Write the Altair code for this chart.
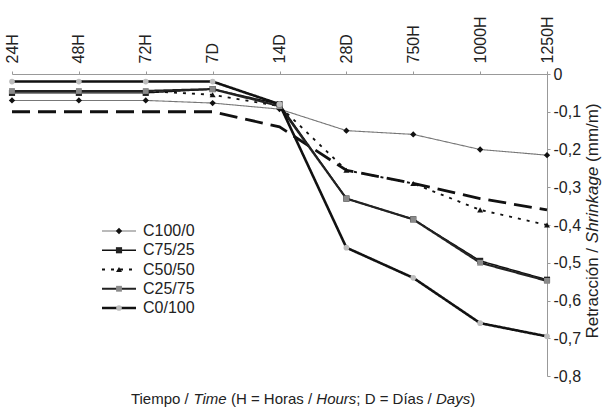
import altair as alt
import pandas as pd

# ---------------- data ----------------
tiempos = ["24H", "48H", "72H", "7D", "14D", "28D", "750H", "1000H", "1250H"]
series = ["C100/0", "C75/25", "C50/50", "C25/75", "C0/100"]

c100_0 = [-0.070, -0.070, -0.070, -0.077, -0.093, -0.150, -0.160, -0.200, -0.215]
c75_25 = [-0.050, -0.050, -0.050, -0.040, -0.080, -0.330, -0.385, -0.495, -0.545]
c50_50 = [-0.045, -0.045, -0.045, -0.055, -0.085, -0.255, -0.290, -0.360, -0.400]
c25_75 = [-0.045, -0.045, -0.045, -0.040, -0.085, -0.330, -0.385, -0.500, -0.548]
c0_100 = [-0.020, -0.020, -0.020, -0.020, -0.080, -0.460, -0.540, -0.660, -0.695]
# long-dashed curve without markers (not listed in the legend)
discontinua = [-0.100, -0.100, -0.100, -0.100, -0.140, -0.255, -0.290, -0.330, -0.360]

valores = [c100_0, c75_25, c50_50, c25_75, c0_100]

rows = []
for s, vals in zip(series, valores):
    for t, v in zip(tiempos, vals):
        rows.append({"serie": s, "tiempo": t, "valor": v})
df = pd.DataFrame(rows)
df_dash = pd.DataFrame({"tiempo": tiempos, "valor": discontinua})
df_leg = pd.DataFrame({"serie": series})

# ---------------- styles ----------------
FONT = "Liberation Sans"
line_colors = ["#777777", "#111111", "#111111", "#222222", "#111111"]
line_widths = [1.1, 2.6, 2.2, 2.0, 1.8]
line_dashes = [[1, 0], [1, 0], [3, 6], [1, 0], [1, 0]]
mark_shapes = ["diamond", "square", "triangle-up", "square", "circle"]
mark_fills = ["#111111", "#222222", "#111111", "#8a8a8a", "#bdbdbd"]
mark_sizes = [40, 32, 45, 32, 55]

W, H = 535, 302

x_enc = alt.X(
    "tiempo:O",
    sort=tiempos,
    scale=alt.Scale(type="point", padding=0),
    axis=alt.Axis(
        orient="top", title=None, labelAngle=-90, labelAlign="left",
        labelBaseline="middle", labelFont=FONT, labelFontSize=16,
        labelColor="#222222", tickSize=3, labelPadding=8,
        domainColor="#999999", tickColor="#999999", grid=False,
    ),
)
y_enc = alt.Y(
    "valor:Q",
    scale=alt.Scale(domain=[-0.8, 0], nice=False, zero=False),
    axis=alt.Axis(
        orient="right", title=None, values=[0, -0.1, -0.2, -0.3, -0.4, -0.5, -0.6, -0.7, -0.8],
        labelExpr="abs(datum.value) < 1e-9 ? '0' : '-' + replace(format(abs(datum.value), '.1f'), '.', ',')",
        labelFont=FONT, labelFontSize=16, labelColor="#222222",
        tickSize=3, labelPadding=3, domainColor="#999999", tickColor="#999999", grid=False,
    ),
)

stroke_enc = alt.Stroke("serie:N", scale=alt.Scale(domain=series, range=line_colors), legend=None)
sw_enc = alt.StrokeWidth("serie:N", scale=alt.Scale(domain=series, range=line_widths), legend=None)
sd_enc = alt.StrokeDash("serie:N", scale=alt.Scale(domain=series, range=line_dashes), legend=None)
shape_enc = alt.Shape("serie:N", scale=alt.Scale(domain=series, range=mark_shapes), legend=None)
fill_enc = alt.Fill("serie:N", scale=alt.Scale(domain=series, range=mark_fills), legend=None)
size_enc = alt.Size("serie:N", scale=alt.Scale(domain=series, range=mark_sizes), legend=None)

dash_line = alt.Chart(df_dash).mark_line(color="#111111", strokeWidth=2.8, strokeDash=[18, 8]).encode(
    x=x_enc, y=y_enc
)
lines = alt.Chart(df).mark_line().encode(
    x=x_enc, y=y_enc, stroke=stroke_enc, strokeWidth=sw_enc, strokeDash=sd_enc,
    detail="serie:N", order=alt.Order("tiempo_idx:Q"),
).transform_calculate(
    tiempo_idx="indexof(" + str(tiempos).replace("'", '"') + ", datum.tiempo)"
)
points = alt.Chart(df).mark_point(filled=True, opacity=1, strokeWidth=0).encode(
    x=x_enc, y=y_enc, shape=shape_enc, fill=fill_enc, size=size_enc
)
main = alt.layer(dash_line, lines, points)

# ---------------- legend (custom) ----------------
ley_y = alt.Y("serie:N", sort=series,
              scale=alt.Scale(type="point", domain=series, range=[157, 234], padding=0),
              axis=None)
leg_rule = alt.Chart(df_leg).mark_rule().encode(
    x=alt.value(90), x2=alt.value(124), y=ley_y,
    stroke=stroke_enc, strokeWidth=sw_enc, strokeDash=sd_enc,
)
leg_pts = alt.Chart(df_leg).mark_point(filled=True, opacity=1, strokeWidth=0).encode(
    x=alt.value(107), y=ley_y, shape=shape_enc, fill=fill_enc, size=size_enc
)
leg_txt = alt.Chart(df_leg).mark_text(align="left", baseline="middle", font=FONT,
                                      fontSize=16, color="#222222").encode(
    x=alt.value(131), y=ley_y, text="serie:N"
)
legend = alt.layer(leg_rule, leg_pts, leg_txt)

# ---------------- titles with italic parts ----------------
CW = {" ": 278, "/": 278, "(": 333, ")": 333, "=": 584, ";": 278, "T": 611, "i": 222,
      "e": 556, "m": 833, "p": 556, "o": 556, "H": 722, "r": 333, "a": 556, "s": 500,
      "u": 556, "D": 722, "í": 278, "y": 500, "R": 722, "t": 278, "c": 500, "ó": 556,
      "n": 556, "S": 667, "h": 556, "k": 500, "g": 556}


def tw(s, size):
    return sum(CW.get(c, 556) for c in s) / 1000.0 * size


x_title_parts = [("Tiempo / ", "normal"), ("Time", "italic"), (" (H = Horas / ", "normal"),
                 ("Hours", "italic"), ("; D = Días / ", "normal"), ("Days", "italic"), (")", "normal")]
y_title_parts = [("Retracción / ", "normal"), ("Shrinkage", "italic"), (" (mm/m)", "normal")]

XT_SIZE, YT_SIZE = 15, 17
x_center, x_title_y = 291, 325
y_center, y_title_x = 147, 581

title_layers = []
total = tw("".join(p for p, _ in x_title_parts), XT_SIZE)
off = x_center - total / 2
for seg, style in x_title_parts:
    lead = len(seg) - len(seg.lstrip(" "))
    pos = off + tw(" " * lead, XT_SIZE)
    title_layers.append(
        alt.Chart(pd.DataFrame({"t": [seg.strip(" ")]})).mark_text(
            align="left", baseline="middle", font=FONT, fontSize=XT_SIZE,
            fontStyle=style, color="#222222").encode(
            x=alt.value(pos), y=alt.value(x_title_y), text="t:N")
    )
    off += tw(seg, XT_SIZE)

total = tw("".join(p for p, _ in y_title_parts), YT_SIZE)
off = y_center + total / 2
for seg, style in y_title_parts:
    lead = len(seg) - len(seg.lstrip(" "))
    pos = off - tw(" " * lead, YT_SIZE)
    title_layers.append(
        alt.Chart(pd.DataFrame({"t": [seg.strip(" ")]})).mark_text(
            align="left", baseline="middle", angle=270, font=FONT, fontSize=YT_SIZE,
            fontStyle=style, color="#222222").encode(
            x=alt.value(y_title_x), y=alt.value(pos), text="t:N")
    )
    off -= tw(seg, YT_SIZE)

chart = alt.layer(main, legend, *title_layers).resolve_scale(y="independent").properties(
    width=W, height=H,
    padding={"left": 12, "top": 74, "right": 56, "bottom": 32},
    autosize="none",
    background="white",
).configure_view(stroke=None)

chart.save("out.html", embed_options={"renderer": "svg", "actions": False})
